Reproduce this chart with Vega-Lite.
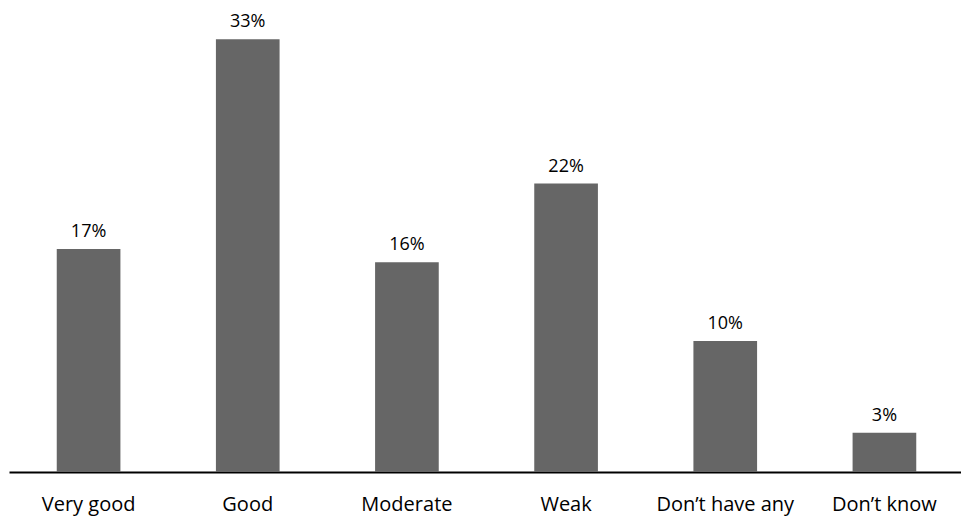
{
  "$schema": "https://vega.github.io/schema/vega-lite/v6.json",
  "width": 955,
  "height": 472,
  "autosize": {"type": "none"},
  "padding": {"left": 9, "top": 0, "right": 0, "bottom": 47},
  "background": "white",
  "config": {"view": {"stroke": null}, "font": "Open Sans"},
  "data": {
    "values": [
      {"category": "Very good", "share": 0.17},
      {"category": "Good", "share": 0.33},
      {"category": "Moderate", "share": 0.16},
      {"category": "Weak", "share": 0.22},
      {"category": "Don’t have any", "share": 0.10},
      {"category": "Don’t know", "share": 0.03}
    ]
  },
  "encoding": {
    "x": {
      "field": "category",
      "type": "nominal",
      "sort": null,
      "scale": {"paddingInner": 0.6, "paddingOuter": 0.3},
      "axis": {
        "title": null,
        "labelAngle": 0,
        "ticks": false,
        "domainColor": "#000000",
        "domainWidth": 2,
        "labelFontSize": 20,
        "labelColor": "#000000",
        "labelPadding": 22
      }
    },
    "y": {
      "field": "share",
      "type": "quantitative",
      "scale": {"domain": [0, 0.36], "nice": false},
      "axis": null
    }
  },
  "layer": [
    {"mark": {"type": "bar", "color": "#666666"}},
    {
      "mark": {"type": "text", "baseline": "bottom", "dy": -8, "fontSize": 18, "color": "#000000"},
      "encoding": {"text": {"field": "share", "type": "quantitative", "format": ".0%"}}
    }
  ]
}
